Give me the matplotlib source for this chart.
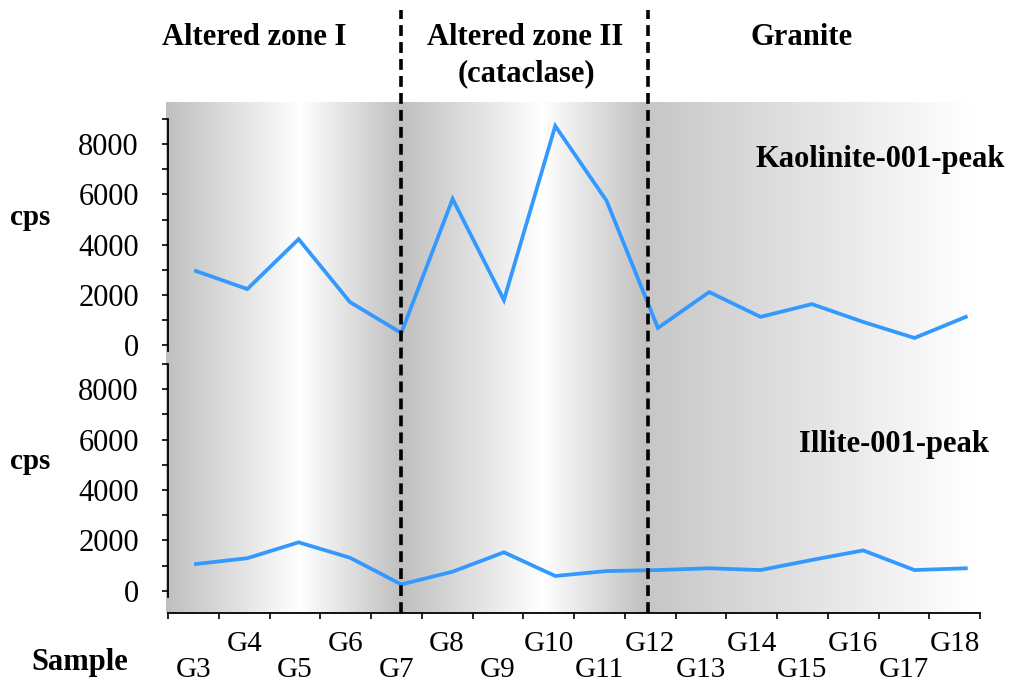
import numpy as np
import matplotlib.pyplot as plt
from matplotlib.lines import Line2D
from matplotlib import transforms

plt.rcParams['font.family'] = ['Liberation Serif', 'DejaVu Serif']

# Data
samples = ['G3', 'G4', 'G5', 'G6', 'G7', 'G8', 'G9', 'G10',
           'G11', 'G12', 'G13', 'G14', 'G15', 'G16', 'G17', 'G18']
kaolinite = [2950, 2230, 4220, 1710, 480, 5820, 1790, 8730,
             5750, 680, 2110, 1120, 1630, 920, 280, 1120]
illite = [1060, 1290, 1920, 1310, 250, 755, 1525, 585,
          780, 820, 890, 820, 1220, 1600, 820, 890]
zone_names = ['Altered zone I', 'Altered zone II\n(cataclase)', 'Granite']
zone_edges = [-0.585, 4.0, 8.807, 15.667]   # in sample-index units
series_names = ['Kaolinite-001-peak', 'Illite-001-peak']

W, H = 1010, 684
fig = plt.figure(figsize=(W / 100, H / 100), dpi=100)


def fx(p):
    return p / W


def fy(p):
    return 1 - p / H


def box(l, r, t, b):
    return [fx(l), fy(b), fx(r) - fx(l), fy(t) - fy(b)]


# pixel -> sample index: pix = 196 + 51.32 * idx
def idx(p):
    return (p - 196) / 51.32


blue = '#3399FF'
gray0 = 0.75

# Gradient background shared by both panels
ax_bg = fig.add_axes(box(166, 1000, 101.7, 613))
ax_bg.set_xlim(idx(166), idx(1000))
ax_bg.set_ylim(0, 1)
ax_bg.axis('off')
xs = np.linspace(idx(166), idx(1000), 1600)
g = np.ones_like(xs)
for i in range(3):
    a, b = zone_edges[i], zone_edges[i + 1]
    m = (xs >= a) & (xs <= b)
    t = (xs[m] - a) / (b - a)
    if i < 2:
        p = 0.57
        g[m] = np.where(t < p, gray0 + (1 - gray0) * t / p,
                        1 - (1 - gray0) * (t - p) / (1 - p))
    else:
        g[m] = gray0 + 0.03 + (1 - gray0 - 0.03) * np.minimum(t / 0.92, 1)
img = np.dstack([g, g, g]).repeat(2, axis=0)
ax_bg.imshow(img, extent=[xs[0], xs[-1], 0, 1], aspect='auto',
             interpolation='bilinear')

xlim = (idx(168), idx(980))
ax_top = fig.add_axes(box(168, 980, 101.7, 356))
ax_bot = fig.add_axes(box(168, 980, 356, 613))
ax_top.set_ylim((345 - 356) * 39.86, (345 - 101.7) * 39.86)
ax_bot.set_ylim((590.7 - 613) * 39.7, (590.7 - 356) * 39.7)

x = np.arange(len(samples))
for ax, vals in [(ax_top, kaolinite), (ax_bot, illite)]:
    ax.set_facecolor('none')
    ax.set_xlim(*xlim)
    ax.plot(x, vals, color=blue, lw=2.7, solid_joinstyle='miter')
    for s in ['top', 'right']:
        ax.spines[s].set_visible(False)
    ax.spines['left'].set_bounds(-250, 9000)
    ax.spines['left'].set_linewidth(1.3)
    ax.set_yticks([0, 2000, 4000, 6000, 8000])
    ax.set_yticks(np.arange(1000, 9001, 2000), minor=True)
    ax.tick_params(axis='y', which='both', direction='out', length=4,
                   width=1.2, pad=17, labelsize=22)

ax_top.spines['bottom'].set_visible(False)
ax_top.set_xticks([])

# category axis: boundary ticks, staggered labels at centres
bounds = np.linspace(xlim[0], xlim[1], len(samples) + 1)
centres = (bounds[:-1] + bounds[1:]) / 2
ax_bot.spines['bottom'].set_linewidth(1.3)
ax_bot.set_xticks(bounds, minor=True)
ax_bot.set_xticks(centres)
ax_bot.set_xticklabels(samples)
ax_bot.tick_params(axis='x', which='minor', direction='out', length=4.5, width=1.2)
ax_bot.tick_params(axis='x', which='major', length=0, labelsize=21)
for i, tick in enumerate(ax_bot.xaxis.get_major_ticks()):
    tick.set_pad(32 if i % 2 == 0 else 13)

# zone separators
tr = transforms.blended_transform_factory(ax_top.transData, fig.transFigure)
for xb in zone_edges[1:3]:
    fig.add_artist(Line2D([xb, xb], [fy(613), fy(10)], transform=tr,
                          color='black', lw=2.6, linestyle=(0, (3.0, 1.7))))

# headers and labels
bold = dict(fontweight='bold', ha='center', va='baseline')
fig.text(fx(254), fy(45), zone_names[0], fontsize=22, **bold)
fig.text(fx(525), fy(45), zone_names[1].split('\n')[0], fontsize=22, **bold)
fig.text(fx(526), fy(81), zone_names[1].split('\n')[1], fontsize=22, **bold)
fig.text(fx(802), fy(45), zone_names[2], fontsize=22, **bold)
fig.text(fx(880), fy(167), series_names[0], fontsize=22, **bold)
fig.text(fx(894), fy(452), series_names[1], fontsize=22, **bold)
fig.text(fx(30), fy(225), 'cps', fontsize=21, **bold)
fig.text(fx(30), fy(469), 'cps', fontsize=21, **bold)
fig.text(fx(80), fy(670), 'Sample', fontsize=22, **bold)

fig.savefig('out.png', dpi=100)
